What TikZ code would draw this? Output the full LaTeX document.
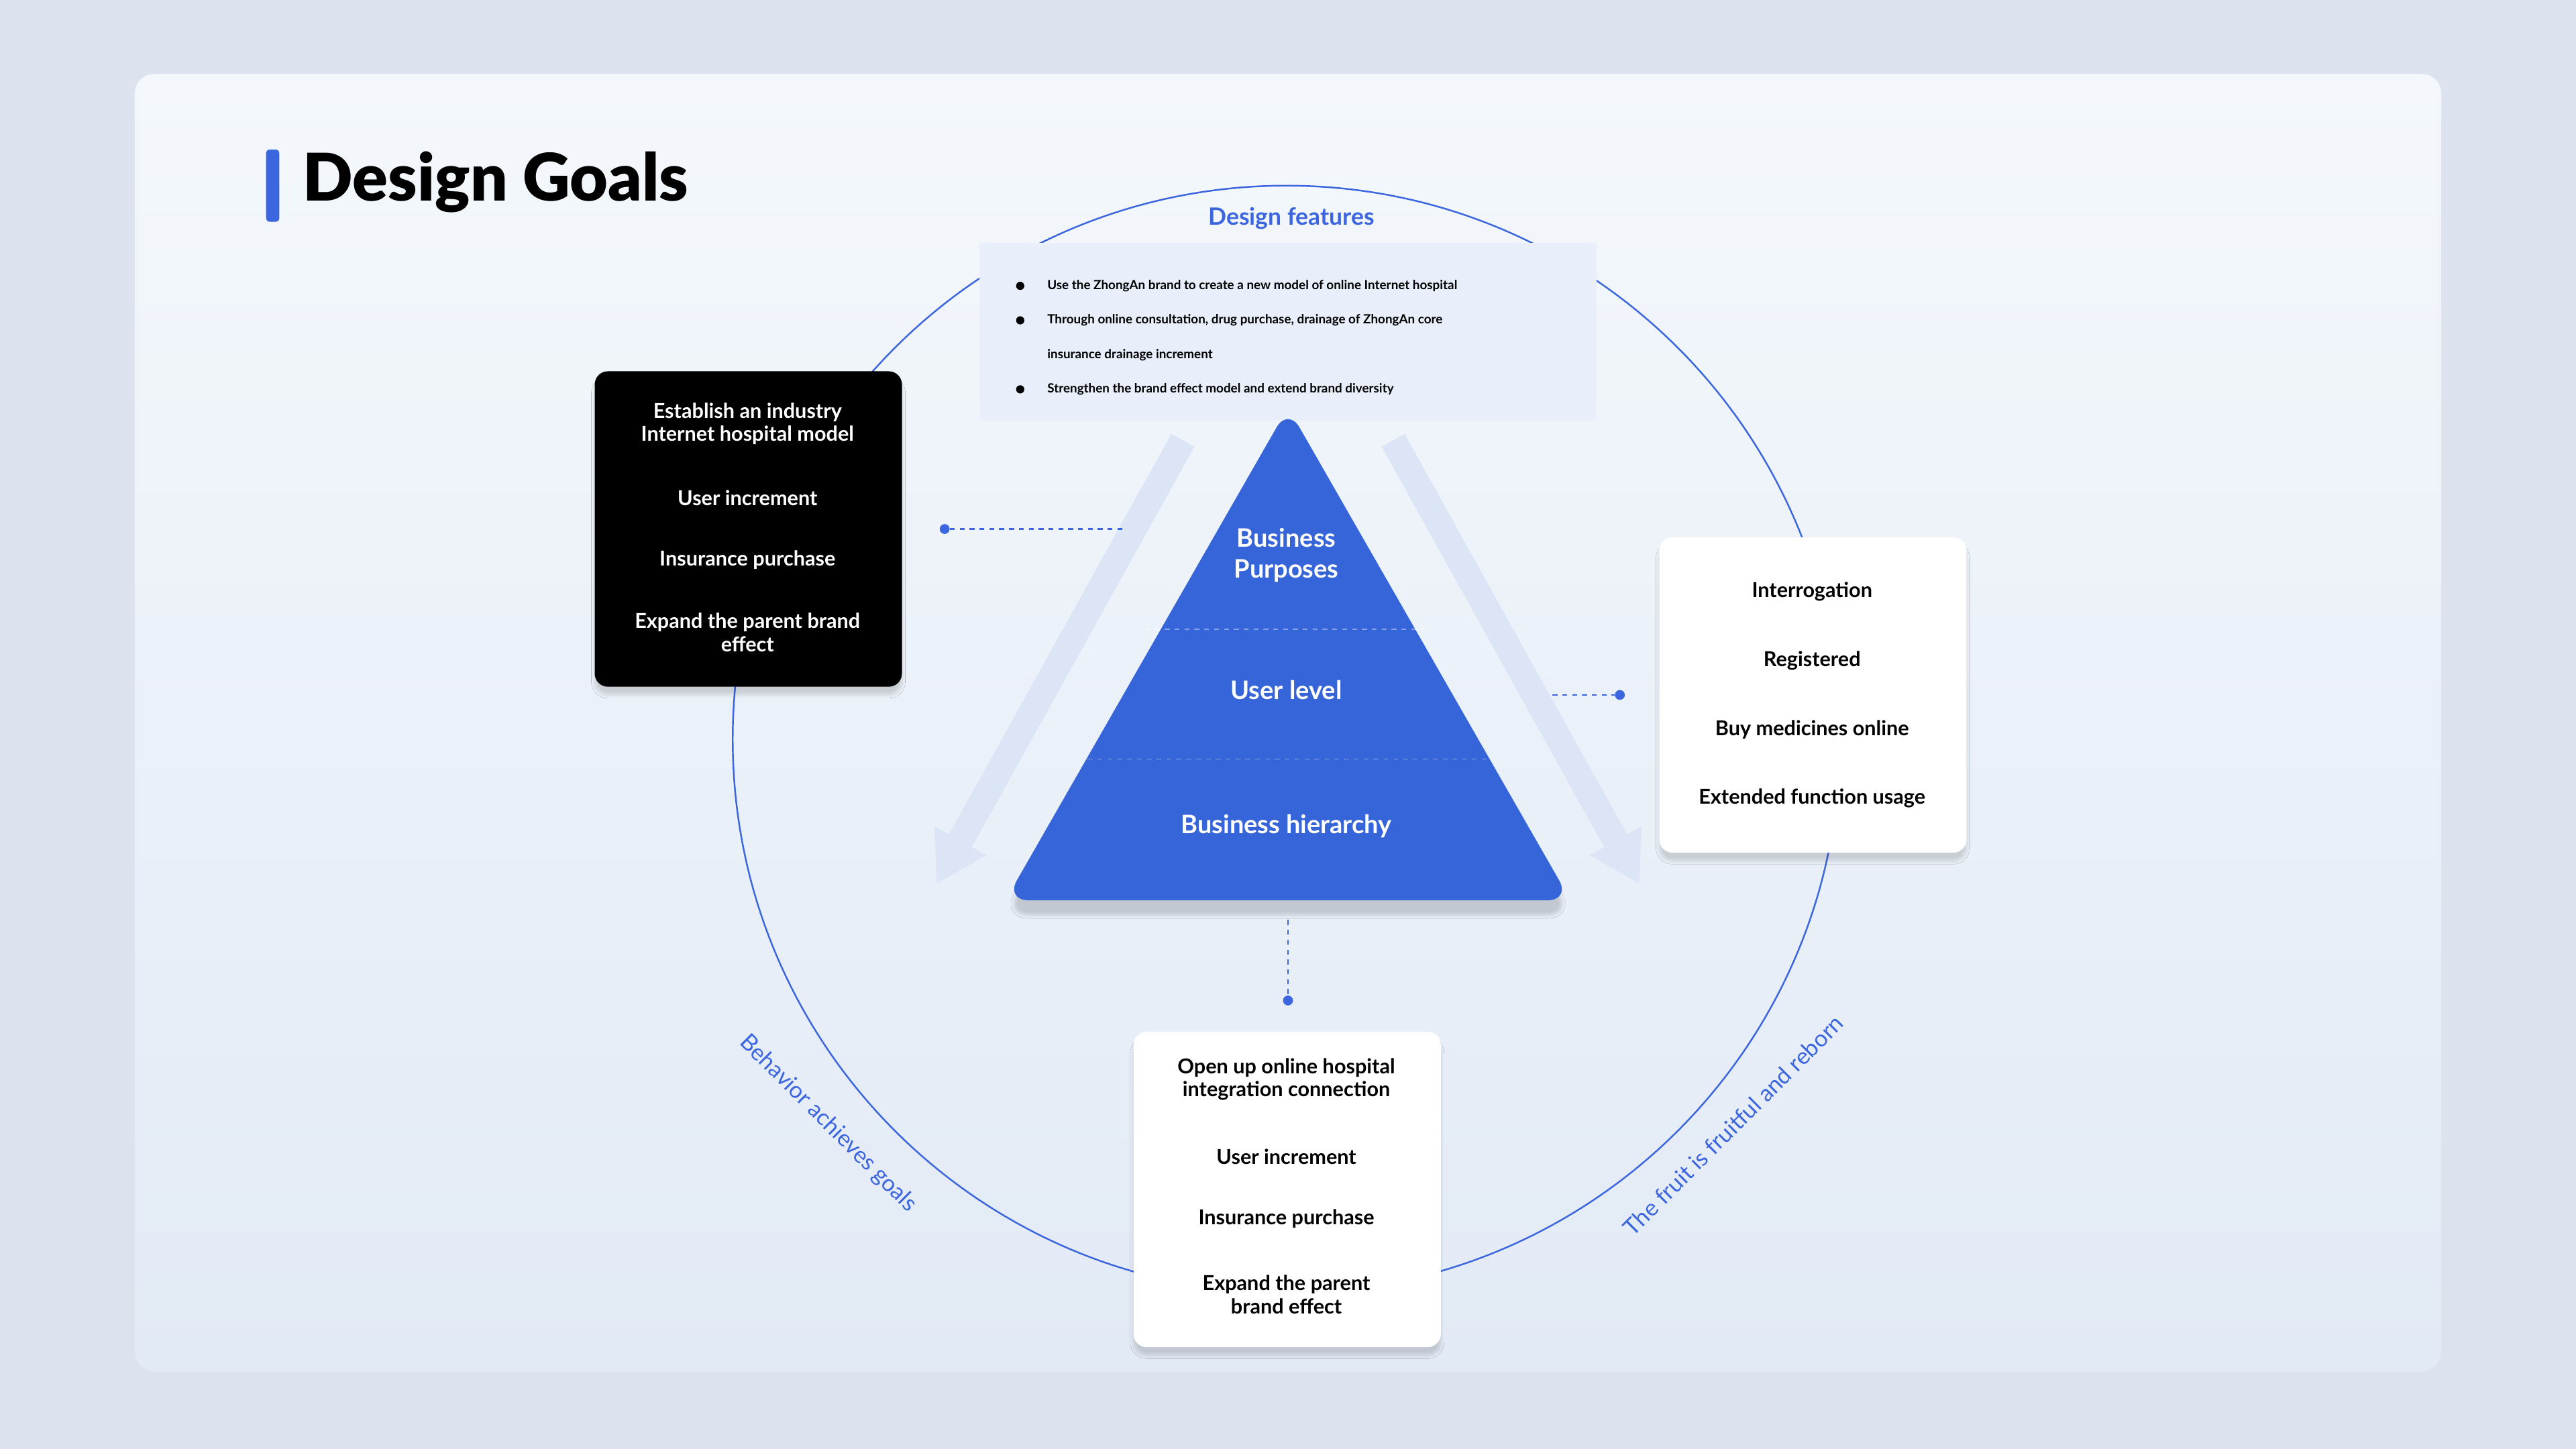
\documentclass[tikz,border=0pt]{standalone}
\usepackage{fontspec}
\setmainfont{Lato}
\usetikzlibrary{shadows.blur,arrows.meta}
\definecolor{pageBg}{HTML}{DCE3EE}
\definecolor{cardTop}{HTML}{F4F8FC}
\definecolor{cardBot}{HTML}{E2EAF5}
\definecolor{accent}{HTML}{3B66E0}
\definecolor{pyr}{HTML}{3664D9}
\definecolor{featBg}{HTML}{E8EFFA}
\definecolor{ghost}{HTML}{DCE5F6}
\begin{document}
\begin{tikzpicture}[x=1pt,y=-1pt,
  card/.style={rounded corners=8pt,blur shadow={shadow blur steps=10,shadow xshift=0pt,shadow yshift=-5pt,shadow opacity=14}},
  item/.style={font=\bfseries\fontsize{12.5}{14}\selectfont,align=center},
  pyrtxt/.style={font=\bfseries\fontsize{15.5}{18.5}\selectfont,text=white,align=center},
  conn/.style={accent,dashed,line width=1pt},
  dot/.style={circle,fill=accent,inner sep=0pt,minimum size=6pt},
  feat/.style={font=\bfseries\fontsize{7.7}{9}\selectfont,anchor=west},
  arc/.style={font=\fontsize{14}{16}\selectfont,text=accent}]
\useasboundingbox (0,0) rectangle (1568,882);
\fill[pageBg] (0,0) rectangle (1568,882);
\shade[rounded corners=12pt,top color=cardTop,bottom color=cardBot] (82,45) rectangle (1486,835);
% title
\fill[accent,rounded corners=2pt] (162,91) rectangle (170,135);
\node[anchor=west,font=\fontspec{Lato Black}\fontsize{40}{44}\selectfont] (title) at (181,111) {Design Goals};
% circle
\draw[accent,line width=1pt] (783,450) circle[radius=337];
% ghost arrows
\draw[ghost,line width=16pt,-{Triangle[width=34pt,length=30pt]}] (720,268) -- (570,538);
\draw[ghost,line width=16pt,-{Triangle[width=34pt,length=30pt]}] (848,268) -- (998,538);
% features
\fill[featBg] (596,148) rectangle (972,256);
\node[font=\bfseries\fontsize{14.5}{16}\selectfont,text=accent] (ft) at (786,133) {Design features};
\foreach \yy in {174,195,237} \fill (621,\yy) circle[radius=2.5];
\node[feat] (f1) at (634,174) {Use the ZhongAn brand to create a new model of online Internet hospital};
\node[feat] (f2) at (634,195) {Through online consultation, drug purchase, drainage of ZhongAn core};
\node[feat] (f3) at (634,216) {insurance drainage increment};
\node[feat] (f4) at (634,237) {Strengthen the brand effect model and extend brand diversity};
% pyramid
\fill[pyr,rounded corners=14pt,blur shadow={shadow blur steps=10,shadow xshift=0pt,shadow yshift=-9pt,shadow opacity=16}] (784,248) -- (956,548) -- (612,548) -- cycle;
\draw[white,opacity=0.4,dashed,line width=0.6pt] (697,383) -- (870,383);
\draw[white,opacity=0.4,dashed,line width=0.6pt] (662,462) -- (907,462);
\node[pyrtxt] (p1) at (783,338) {Business\\Purposes};
\node[pyrtxt] (p2) at (783,420) {User level};
\node[pyrtxt] (p3) at (783,503) {Business hierarchy};
% left box
\fill[black,card] (362,226) rectangle (549,418);
\node[item,text=white] (l1) at (455,258) {Establish an industry\\Internet hospital model};
\node[item,text=white] (l2) at (455,303) {User increment};
\node[item,text=white] (l3) at (455,341) {Insurance purchase};
\node[item,text=white] (l4) at (455,385) {Expand the parent brand\\effect};
% right box
\fill[white,card] (1010,327) rectangle (1197,519);
\node[item] (r1) at (1103,360) {Interrogation};
\node[item] (r2) at (1103,402) {Registered};
\node[item] (r3) at (1103,444) {Buy medicines online};
\node[item] (r4) at (1103,486) {Extended function usage};
% bottom box
\fill[white,card] (690,628) rectangle (877,820);
\node[item] (b1) at (783,657) {Open up online hospital\\integration connection};
\node[item] (b2) at (783,704) {User increment};
\node[item] (b3) at (783,742) {Insurance purchase};
\node[item] (b4) at (783,788) {Expand the parent\\brand effect};
% connectors
\coordinate (cl) at (685,322);
\node[dot] (dl) at (575,322) {};
\draw[conn] (dl) -- (cl);
\coordinate (cr) at (945,423);
\node[dot] (dr) at (986,423) {};
\draw[conn] (cr) -- (dr);
\coordinate (cb) at (784,560);
\node[dot] (db) at (784,609) {};
\draw[conn] (cb) -- (db);
% arc labels
\node[arc,rotate=-45] (al) at (504,684) {Behavior achieves goals};
\node[arc,rotate=45] (ar) at (1055,685) {The fruit is fruitful and reborn};
\end{tikzpicture}
\end{document}
